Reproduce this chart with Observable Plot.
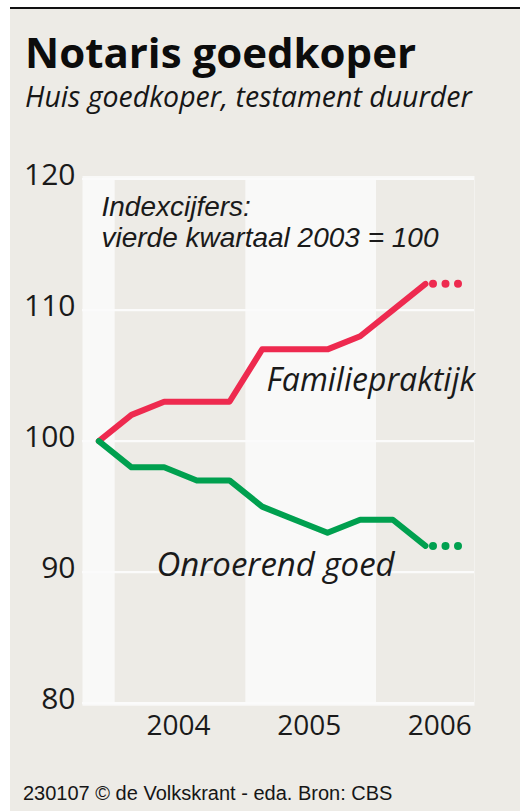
<!DOCTYPE html>
<html>
<head>
<meta charset="utf-8">
<script src="https://cdn.jsdelivr.net/npm/d3@7"></script>
<script src="https://cdn.jsdelivr.net/npm/@observablehq/plot@0.6"></script>
<style>
  html, body { margin: 0; padding: 0; background: #ffffff; }
  #page { position: relative; width: 520px; height: 811px; overflow: hidden; background: #ffffff; font-family: "Open Sans", sans-serif; color: #161616; }
  #panel { position: absolute; left: 10px; top: 7px; width: 510px; height: 802px; background: #edebe6; border-top: 2px solid #111; }
  .t { position: absolute; white-space: nowrap; line-height: 1; }
  #title { left: 25px; top: 30.5px; font-size: 42px; font-weight: 700; color: #0c0c0c; }
  #subtitle { left: 25px; top: 81.5px; font-size: 28.5px; font-style: italic; }
  #caption { left: 23px; top: 783px; font-size: 20px; font-family: "Liberation Sans", Arial, sans-serif; }
  #chart { position: absolute; left: 0; top: 150px; }
</style>
</head>
<body>
<div id="page">
  <div id="panel"></div>
  <div class="t" id="title">Notaris goedkoper</div>
  <div class="t" id="subtitle">Huis goedkoper, testament duurder</div>
  <div id="chart"></div>
  <div class="t" id="caption">230107 © de Volkskrant - eda. Bron: CBS</div>
</div>
<script>
// ---- data ----
const quarters = ["2003-K4", "2004-K1", "2004-K2", "2004-K3", "2004-K4", "2005-K1", "2005-K2", "2005-K3", "2005-K4", "2006-K1", "2006-K2"];
const familiepraktijk = [100, 102, 103, 103, 103, 107, 107, 107, 108, 110, 112];
const onroerendGoed   = [100, 98, 98, 97, 97, 95, 94, 93, 94, 94, 92];
const projectionQuarter = "2006-K3";
const yearLabels = ["2004", "2005", "2006"];
const shadedYears = ["2004", "2006"];
const yTicks = [80, 90, 100, 110, 120];
const seriesNames = ["Familiepraktijk", "Onroerend goed"];
const noteLines = ["Indexcijfers:", "vierde kwartaal 2003 = 100"];

// ---- derived tables ----
const allQuarters = [...quarters, projectionQuarter];
const qi = q => allQuarters.indexOf(q);
const series = [
  {name: seriesNames[0], values: familiepraktijk, color: "#ee2a4f"},
  {name: seriesNames[1], values: onroerendGoed, color: "#00a04f"}
];
const solid = series.flatMap(s => s.values.map((v, i) => ({name: s.name, t: i, v, color: s.color})));
const dotted = series.flatMap(s => {
  const last = s.values[s.values.length - 1];
  return [
    {name: s.name, t: qi(quarters[quarters.length - 1]), v: last, color: s.color},
    {name: s.name, t: qi(projectionQuarter), v: last, color: s.color}
  ];
});
const yearStart = y => qi(y + "-K1");
const bands = shadedYears.map(y => ({x1: yearStart(y) - 0.5, x2: yearStart(y) + 3.5}));
const yearTicks = yearLabels.map(y => yearStart(y) + 1.5);
const yearTickLabel = new Map(yearLabels.map((y, i) => [yearTicks[i], y]));

const ink = "#1a1a1a";
const chart = Plot.plot({
  width: 520,
  height: 610,
  marginLeft: 82,
  marginRight: 46,
  marginTop: 28.5,
  marginBottom: 57.3,
  style: {fontFamily: "'Open Sans', sans-serif", background: "transparent", color: ink, overflow: "visible"},
  x: {domain: [-0.5, allQuarters.length - 0.5], axis: null},
  y: {domain: [80, 120], axis: null},
  marks: [
    Plot.frame({fill: "#f9f9f8", stroke: "none", insetTop: -3, insetBottom: -2.5}),
    Plot.rect(bands, {x1: "x1", x2: "x2", y1: 80, y2: 120, fill: "#edebe6", clip: true}),
    Plot.ruleY(yTicks, {stroke: "#fbfbfb", strokeWidth: 2.2}),
    Plot.axisY({ticks: yTicks, label: null, tickSize: 0, tickPadding: 7, fontSize: 30, dy: -4, fill: ink}),
    Plot.axisX({ticks: yearTicks, label: null, tickFormat: d => yearTickLabel.get(d), tickSize: 0, tickPadding: 12, fontSize: 28, dx: -2, fill: ink}),
    Plot.line(solid, {x: "t", y: "v", z: "name", stroke: "color", strokeWidth: 6, strokeLinejoin: "round", strokeLinecap: "round"}),
    Plot.line(dotted, {x: "t", y: "v", z: "name", stroke: "color", strokeWidth: 8, strokeLinecap: "round", strokeDasharray: "0 12.5", strokeDashoffset: 5}),
    Plot.text([noteLines.join("\n")], {frameAnchor: "top-left", textAnchor: "start", lineAnchor: "bottom", lineHeight: 1.13, dx: 19, dy: 68.2, fontSize: 28, fontFamily: "'Liberation Sans', Arial, sans-serif", fontStyle: "italic", fill: ink}),
    Plot.text([seriesNames[0]], {frameAnchor: "top-left", textAnchor: "start", lineAnchor: "bottom", dx: 184, dy: 211.5, fontSize: 32, fontStyle: "italic", fill: ink}),
    Plot.text([seriesNames[1]], {frameAnchor: "top-left", textAnchor: "start", lineAnchor: "bottom", dx: 74, dy: 396.5, fontSize: 33, fontStyle: "italic", fill: ink})
  ]
});
document.getElementById("chart").appendChild(chart);
</script>
</body>
</html>
